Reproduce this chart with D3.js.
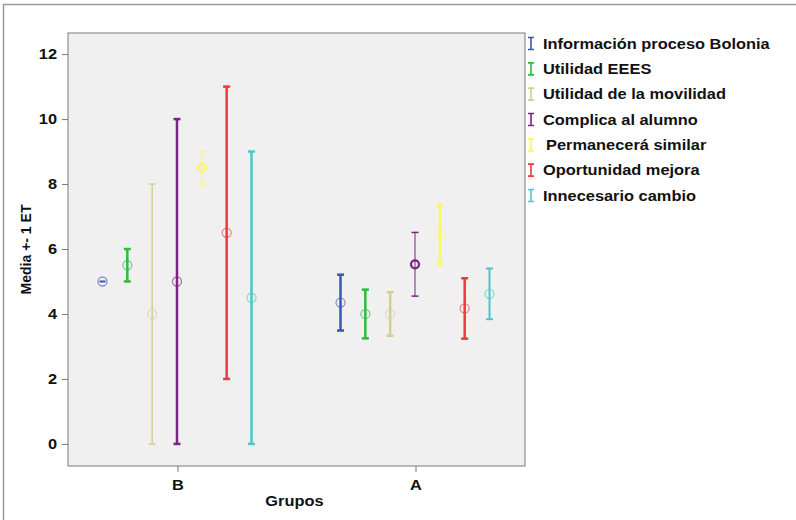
<!DOCTYPE html>
<html>
<head>
<meta charset="utf-8">
<script src="https://cdn.jsdelivr.net/npm/d3@7"></script>
<style>
  body { margin: 0; background: #fff; }
  svg text { font-family: "Liberation Sans", Arial, sans-serif; font-weight: bold; fill: #111; }
</style>
</head>
<body>
<svg id="chart" width="796" height="520"></svg>
<script>
// data
var groups = ['B', 'A'];
var seriesNames = ['Información proceso Bolonia', 'Utilidad EEES', 'Utilidad de la movilidad',
    'Complica al alumno', 'Permanecerá similar', 'Oportunidad mejora', 'Innecesario cambio'];
// mean per series, [B, A]
var means = [[5, 4.35], [5.5, 4], [4, 4], [5, 5.53], [8.5, 6.45], [6.5, 4.17], [4.5, 4.62]];
// one standard error per series, [B, A]
var errors = [[0, 0.86], [0.5, 0.75], [4, 0.67], [5, 0.98], [0.5, 0.91], [4.5, 0.93], [4.5, 0.78]];
var yTicks = [0, 2, 4, 6, 8, 10, 12];

(function() {
    var colors = ['#3d55b5', '#2fba40', '#d4cf98', '#7d2383', '#fbf763', '#f0383c', '#4cc7c9'];
    // bars drawn thinner than the usual thick stroke ("series-group")
    var thinBars = { '2-B': 1.6, '3-A': 1, '4-B': 1, '6-A': 2 };
    var boldMarks = { '4-B': true, '3-A': true };
    var fontSize = 14, stretch = 1.17;

    var svg = d3.select('#chart');

    // outer frame (top and left edges only visible)
    svg.append('line').attr('x1', 3).attr('x2', 796).attr('y1', 4.5).attr('y2', 4.5)
        .attr('stroke', '#9a9a9a').attr('stroke-width', 1.5);
    svg.append('line').attr('x1', 3.5).attr('x2', 3.5).attr('y1', 4).attr('y2', 520)
        .attr('stroke', '#9a9a9a').attr('stroke-width', 1.5);

    var plotLeft = 68, plotRight = 525, plotTop = 33, plotBottom = 466;

    var x = d3.scalePoint().domain(groups).range([plotLeft, plotRight]).padding(0.46);
    var offset = d3.scalePoint().domain(d3.range(seriesNames.length)).range([-75, 74]);
    var y = d3.scaleLinear().domain([-0.68, 12.65]).range([plotBottom, plotTop]);

    svg.append('rect').attr('x', plotLeft).attr('y', plotTop)
        .attr('width', plotRight - plotLeft).attr('height', plotBottom - plotTop)
        .attr('fill', '#f0f0f0').attr('stroke', '#7a7a7a').attr('stroke-width', 1);

    //Draw axis
    var yAxis = d3.axisLeft(y).tickValues(yTicks).tickSize(6).tickPadding(5);
    var gy = svg.append('g').attr('transform', 'translate(' + plotLeft + ',0)').call(yAxis);
    gy.select('.domain').remove();
    gy.selectAll('.tick line').attr('stroke', '#777');
    gy.attr('font-family', null).attr('font-size', null);
    gy.selectAll('.tick text').attr('class', 'wide').attr('font-size', fontSize);

    var xAxis = d3.axisBottom(x).tickSize(6).tickPadding(8);
    var gx = svg.append('g').attr('transform', 'translate(0,' + plotBottom + ')').call(xAxis);
    gx.select('.domain').remove();
    gx.selectAll('.tick line').attr('stroke', '#777');
    gx.attr('font-family', null).attr('font-size', null);
    gx.selectAll('.tick text').attr('class', 'wide').attr('font-size', fontSize);

    svg.append('text').attr('class', 'wide').attr('x', (plotLeft + plotRight) / 2 - 2).attr('y', 506)
        .attr('text-anchor', 'middle').attr('font-size', fontSize).text('Grupos');
    svg.append('text').attr('transform', 'translate(31,' + (plotTop + plotBottom) / 2 + ') rotate(-90)')
        .attr('text-anchor', 'middle').attr('font-size', fontSize).text('Media +- 1 ET');

    // error bars
    var points = [];
    seriesNames.forEach(function(name, i) {
        groups.forEach(function(g, j) {
            points.push({ s: i, g: g, mean: means[i][j], err: errors[i][j] });
        });
    });

    var marks = svg.append('g');
    points.forEach(function(d) {
        var key = d.s + '-' + d.g;
        var cx = x(d.g) + offset(d.s);
        var col = colors[d.s];
        var w = thinBars[key] || 2.5;
        var g = marks.append('g');
        if (d.err > 0) {
            g.append('line').attr('x1', cx).attr('x2', cx)
                .attr('y1', y(d.mean + d.err)).attr('y2', y(d.mean - d.err))
                .attr('stroke', col).attr('stroke-width', w);
            [d.mean + d.err, d.mean - d.err].forEach(function(v) {
                g.append('line').attr('x1', cx - 3.5).attr('x2', cx + 3.5)
                    .attr('y1', y(v)).attr('y2', y(v))
                    .attr('stroke', col).attr('stroke-width', Math.max(w, 1.5));
            });
        } else {
            g.append('line').attr('x1', cx - 3).attr('x2', cx + 3)
                .attr('y1', y(d.mean)).attr('y2', y(d.mean))
                .attr('stroke', col).attr('stroke-width', 2);
        }
        var bold = boldMarks[key];
        g.append('circle').attr('cx', cx).attr('cy', y(d.mean)).attr('r', bold ? 4 : 4.5)
            .attr('fill', 'none').attr('stroke', col)
            .attr('stroke-opacity', bold ? 1 : 0.6)
            .attr('stroke-width', bold ? 2.2 : 1.3);
    });

    // legend
    var legend = svg.append('g');
    var ly = d3.scaleLinear().domain([0, seriesNames.length - 1]).range([43.5, 195.5]);
    seriesNames.forEach(function(name, i) {
        var cy = ly(i);
        var mx = 531;
        legend.append('path')
            .attr('d', 'M' + (mx - 3) + ',' + (cy - 6) + 'H' + (mx + 3) +
                'M' + mx + ',' + (cy - 6) + 'V' + (cy + 6) +
                'M' + (mx - 3) + ',' + (cy + 6) + 'H' + (mx + 3))
            .attr('stroke', colors[i]).attr('stroke-width', 1.6).attr('fill', 'none');
        legend.append('text').attr('class', 'wide').attr('x', i === 4 ? 546 : 543).attr('y', cy + 5)
            .attr('font-size', fontSize).text(name);
    });

    // the reference glyphs are a little wider than Liberation Sans
    svg.selectAll('text.wide').each(function() {
        var len = this.getComputedTextLength();
        d3.select(this).attr('textLength', len * stretch).attr('lengthAdjust', 'spacingAndGlyphs');
    });
})();
</script>
</body>
</html>
